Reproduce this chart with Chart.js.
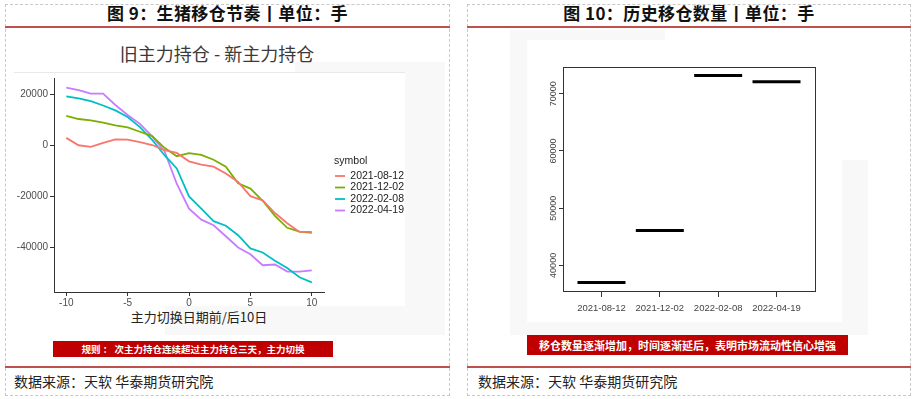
<!DOCTYPE html>
<html>
<head>
<meta charset="utf-8">
<script src="https://cdn.jsdelivr.net/npm/chart.js@4.4.1/dist/chart.umd.min.js"></script>
<style>
  body { margin: 0; width: 915px; height: 399px; background: #fff; position: relative; overflow: hidden;
         font-family: "Noto Sans CJK SC", sans-serif; }
  .abs { position: absolute; }
  .panel { position: absolute; top: 4px; height: 392px; border: 1px dashed #c8c8c8; box-sizing: border-box; }
  .ptitle { position: absolute; top: 3px; text-align: center; font-weight: bold; font-size: 17px; letter-spacing: 0.4px; line-height: 20px; color: #111; white-space: nowrap; }
  .redline { position: absolute; height: 2px; background: #c0504d; }
  .src { position: absolute; top: 372px; font-size: 14px; line-height: 18px; color: #222; }
  .banner { position: absolute; background: #c00000; color: #fff; font-weight: bold; text-align: center; white-space: nowrap; }
  .shade { position: absolute; background: #f8f8f8; }
  canvas { position: absolute; }
</style>
</head>
<body>

<!-- 面板框 -->
<div class="panel" style="left:5px;width:445px;"></div>
<div class="panel" style="left:467px;width:444px;"></div>

<div class="ptitle" style="left:5px;width:445px;">图 9：生猪移仓节奏丨单位：手</div>
<div class="ptitle" style="left:467px;width:444px;">图 10：历史移仓数量丨单位：手</div>
<div class="redline" style="left:5px;width:445px;top:26px;"></div>
<div class="redline" style="left:467px;width:444px;top:26px;"></div>

<!-- 截图底色 -->
<div class="shade" style="left:295px;top:62px;width:150px;height:10px;"></div>
<div class="shade" style="left:405px;top:62px;width:40px;height:273px;"></div>
<div class="shade" style="left:165px;top:306px;width:280px;height:29px;"></div>
<div class="abs" style="left:14px;top:72px;width:391px;height:1px;background:#e8e8e8;"></div>

<div class="shade" style="left:510px;top:30px;width:155px;height:10px;"></div>
<div class="shade" style="left:510px;top:40px;width:17px;height:295px;"></div>
<div class="shade" style="left:527px;top:322px;width:341px;height:13px;"></div>
<div class="shade" style="left:842px;top:160px;width:26px;height:175px;"></div>

<div class="abs" style="left:117px;top:42px;width:200px;text-align:center;font-size:18px;line-height:22px;color:#3a3a3a;white-space:nowrap;">旧主力持仓 - 新主力持仓</div>
<div class="abs" style="left:119px;top:309px;width:160px;text-align:center;font-size:13px;line-height:16px;color:#222;white-space:nowrap;">主力切换日期前/后10日</div>

<canvas id="chartSpread" width="431" height="240" style="left:14px;top:70px;"></canvas>
<canvas id="chartCount" width="315" height="282" style="left:527px;top:40px;"></canvas>

<div class="banner" style="left:53px;top:341px;width:280px;height:16px;font-size:9.5px;line-height:16px;">规则 ： 次主力持仓连续超过主力持仓三天，主力切换</div>
<div class="banner" style="left:527px;top:335px;width:321px;height:20px;font-size:11px;line-height:20px;">移仓数量逐渐增加，时间逐渐延后，表明市场流动性信心增强</div>

<div class="redline" style="left:5px;width:445px;top:366px;"></div>
<div class="redline" style="left:467px;width:444px;top:366px;"></div>
<div class="src" style="left:14px;">数据来源：天软 华泰期货研究院</div>
<div class="src" style="left:478px;">数据来源：天软 华泰期货研究院</div>

<script>
// ---------------- 数据 ----------------
// 主力切换日前后 10 天
const days = [-10, -9, -8, -7, -6, -5, -4, -3, -2, -1, 0, 1, 2, 3, 4, 5, 6, 7, 8, 9, 10];

// 旧主力持仓 - 新主力持仓（手）
const s20210812 = [3000, 100, -500, 1000, 2400, 2300, 1300, 200, -1800, -2900, -6200, -7500, -8300, -11000, -14300, -19900, -21500, -26500, -30500, -33900, -33900];
const s20211202 = [11600, 10400, 9900, 9000, 7900, 7100, 5400, 3700, -900, -4200, -3000, -3700, -5600, -8300, -14800, -16900, -21700, -27600, -32300, -33800, -34300];
const s20220208 = [19300, 18500, 17400, 15700, 13800, 11200, 7200, 2200, -3800, -9000, -20000, -24800, -29700, -31500, -35200, -40400, -42000, -45200, -48100, -51700, -53700];
const s20220419 = [22700, 21700, 20400, 20400, 15900, 12000, 8500, 3600, -2200, -15000, -24800, -29100, -31300, -35600, -40000, -42700, -47000, -46700, -49500, -49500, -49000];

const seriesNames = ["2021-08-12", "2021-12-02", "2022-02-08", "2022-04-19"];
const lineColors = ["#F8766D", "#7CAE00", "#00BFC4", "#C77CFF"];
const dayTicks = [-10, -5, 0, 5, 10];
const spreadTicks = [-40000, -20000, 0, 20000];

// 历史移仓数量
const moveDates = ["2021-08-12", "2021-12-02", "2022-02-08", "2022-04-19"];
const moveCounts = [37000, 46100, 73200, 72100];
const countTicks = [40000, 50000, 60000, 70000];

Chart.defaults.font.family = "'Liberation Sans', Arial, sans-serif";

// 图例往右、往上挪一点（ggplot 图例和绘图区之间有空隙）
const nudgeLegend = {
  id: "nudgeLegend",
  afterLayout(chart) {
    if (!chart.legend) return;
    chart.legend.left += 10;
    chart.legend.right += 10;
    chart.legend.top -= 7;
    chart.legend.bottom -= 7;
  }
};

// R 基础绘图的外框
const frameBox = {
  id: "frameBox",
  beforeDatasetsDraw(chart) {
    const { ctx, chartArea: a } = chart;
    ctx.save();
    ctx.strokeStyle = "#333";
    ctx.lineWidth = 1;
    ctx.strokeRect(a.left + 0.5, a.top + 0.5, a.right - a.left, a.bottom - a.top);
    ctx.restore();
  }
};

const plain = v => String(v);

// ---------------- 图 9 ----------------
const spread = [s20210812, s20211202, s20220208, s20220419];

new Chart(document.getElementById("chartSpread"), {
  type: "line",
  data: {
    datasets: seriesNames.map((name, i) => ({
      label: name,
      data: days.map((d, j) => ({ x: d, y: spread[i][j] })),
      borderColor: lineColors[i],
      backgroundColor: lineColors[i],
      borderWidth: 1.8,
      pointRadius: 0,
      tension: 0
    }))
  },
  options: {
    responsive: false,
    animation: false,
    layout: { padding: { left: 0, right: 41, top: 6, bottom: 2 } },
    plugins: {
      tooltip: { enabled: false },
      legend: {
        position: "right",
        align: "center",
        title: {
          display: true,
          text: "symbol",
          position: "start",
          color: "#222",
          font: { size: 10.5 },
          padding: { top: 2.5, bottom: 1.4 }
        },
        labels: {
          usePointStyle: true,
          pointStyle: "line",
          pointStyleWidth: 10,
          boxHeight: 10.5,
          padding: 1,
          color: "#222",
          font: { size: 10.5 }
        }
      }
    },
    scales: {
      x: {
        type: "linear",
        min: -11,
        max: 11,
        afterBuildTicks: s => { s.ticks = dayTicks.map(v => ({ value: v })); },
        afterFit: s => { s.height = 16; },
        border: { color: "#333", width: 1 },
        grid: { drawOnChartArea: false, tickLength: 4, color: "#333" },
        ticks: { callback: plain, color: "#4d4d4d", font: { size: 10 }, padding: 1, maxRotation: 0 }
      },
      y: {
        min: -57500,
        max: 26500,
        afterBuildTicks: s => { s.ticks = spreadTicks.map(v => ({ value: v })); },
        afterFit: s => { s.width = 40; },
        border: { color: "#333", width: 1 },
        grid: { drawOnChartArea: false, tickLength: 4, color: "#333" },
        ticks: { callback: plain, color: "#4d4d4d", font: { size: 10 }, padding: 2 }
      }
    }
  },
  plugins: [nudgeLegend]
});

// ---------------- 图 10 ----------------
new Chart(document.getElementById("chartCount"), {
  type: "scatter",
  data: {
    datasets: [{
      data: moveDates.map((d, i) => ({ x: i + 1, y: moveCounts[i] })),
      pointStyle: "line",
      pointRadius: 24,
      pointHoverRadius: 24,
      borderWidth: 3,
      borderColor: "#000",
      backgroundColor: "#000"
    }]
  },
  options: {
    responsive: false,
    animation: false,
    layout: { padding: { left: 0, right: 20, top: 14, bottom: 6 } },
    plugins: { legend: { display: false }, tooltip: { enabled: false } },
    scales: {
      x: {
        type: "linear",
        min: 0.34,
        max: 4.66,
        afterBuildTicks: s => { s.ticks = moveDates.map((d, i) => ({ value: i + 1 })); },
        afterFit: s => { s.height = 25; },
        border: { display: false },
        grid: { drawOnChartArea: false, tickLength: 6, color: "#333" },
        ticks: {
          callback: v => moveDates[v - 1],
          color: "#444",
          font: { size: 9.5 },
          padding: 6,
          maxRotation: 0
        }
      },
      y: {
        min: 35520,
        max: 74680,
        afterBuildTicks: s => { s.ticks = countTicks.map(v => ({ value: v })); },
        afterFit: s => { s.width = 36; },
        border: { display: false },
        grid: { drawOnChartArea: false, tickLength: 4, color: "#333" },
        ticks: {
          callback: plain,
          minRotation: 90,
          maxRotation: 90,
          crossAlign: "center",
          padding: -7,
          color: "#444",
          font: { size: 9 }
        }
      }
    }
  },
  plugins: [frameBox]
});
</script>
</body>
</html>
